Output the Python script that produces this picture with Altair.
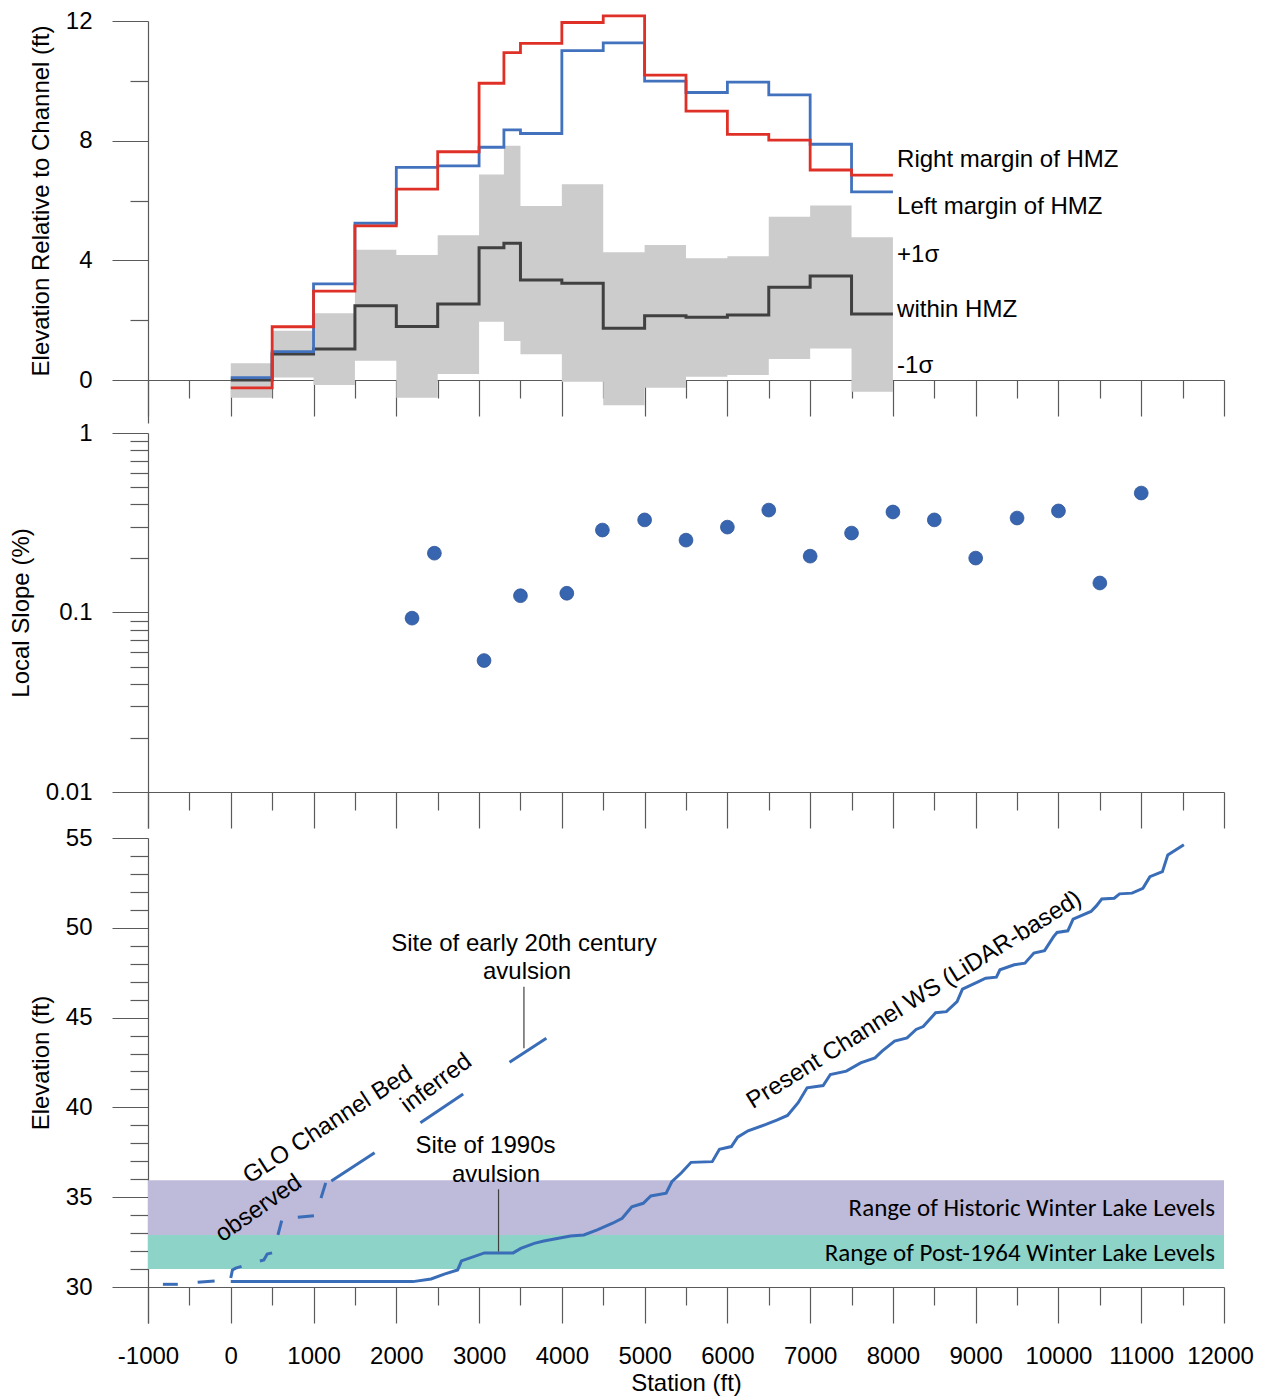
import altair as alt
import pandas as pd

# ---------------- Panel 1: elevation relative to channel (step series) ----------------
step_station = [0, 500, 1000, 1500, 2000, 2500, 3000, 3300, 3500, 4000, 4500,
                5000, 5500, 6000, 6500, 7000, 7500, 8000]
right_margin = [-0.26, 1.78, 2.97, 5.15, 6.38, 7.63, 9.92, 10.94, 11.25, 11.95, 12.17,
                10.19, 8.99, 8.21, 8.02, 7.02, 6.85, 6.85]
left_margin = [0.08, 0.95, 3.21, 5.24, 7.11, 7.16, 7.78, 8.36, 8.24, 11.01, 11.27,
               9.99, 9.61, 9.96, 9.53, 7.88, 6.29, 6.29]
within_hmz = [0.0, 0.87, 1.04, 2.48, 1.79, 2.54, 4.42, 4.57, 3.34, 3.23, 1.73,
              2.15, 2.10, 2.17, 3.10, 3.48, 2.21, 2.21]
plus_sigma = [0.56, 1.65, 2.23, 4.35, 4.18, 4.84, 6.87, 7.83, 5.82, 6.54, 4.27,
              4.51, 4.07, 4.14, 5.46, 5.83, 4.77, 4.77]
minus_sigma = [-0.59, 0.08, -0.17, 0.64, -0.59, 0.20, 1.95, 1.30, 0.86, -0.06, -0.84,
               -0.26, 0.11, 0.17, 0.70, 1.05, -0.39, -0.39]

p1_labels = ["Right margin of HMZ", "Left margin of HMZ", "+1σ", "within HMZ", "-1σ"]
p1_label_x = [8050, 8050, 8050, 8050, 8050]
p1_label_y = [7.35, 5.78, 4.19, 2.34, 0.48]

# ---------------- Panel 2: local slope ----------------
slope_station = [2190, 2460, 3060, 3500, 4060, 4490, 5000, 5500, 6000, 6500,
                 7000, 7500, 8000, 8500, 9000, 9500, 10000, 10500, 11000]
slope_pct = [0.093, 0.214, 0.054, 0.124, 0.128, 0.288, 0.328, 0.253, 0.299, 0.372,
             0.206, 0.277, 0.363, 0.328, 0.201, 0.336, 0.368, 0.146, 0.463]

# ---------------- Panel 3: longitudinal profile ----------------
ws_station = [0, 2200, 2420, 2580, 2741, 2787, 3065, 3412, 3504, 3666, 3782, 4104, 4266,
              4428, 4613, 4729, 4845, 4983, 5075, 5260, 5329, 5445, 5561, 5817, 5904,
              6048, 6124, 6250, 6466, 6597, 6726, 6855, 6963, 7157, 7244, 7437, 7610,
              7783, 7869, 8020, 8171, 8280, 8366, 8516, 8646, 8775, 8840, 9034, 9120,
              9250, 9293, 9466, 9595, 9703, 9832, 9941, 9983, 10113, 10177, 10393,
              10458, 10523, 10674, 10738, 10889, 11020, 11105, 11256, 11321, 11515]
ws_elev = [30.3, 30.3, 30.45, 30.72, 30.95, 31.45, 31.9, 31.9, 32.15, 32.43, 32.56, 32.84,
           32.9, 33.18, 33.55, 33.83, 34.47, 34.66, 35.07, 35.22, 35.86, 36.36, 36.94,
           36.98, 37.67, 37.82, 38.34, 38.7, 39.05, 39.29, 39.55, 40.26, 41.09, 41.22,
           41.83, 42.02, 42.48, 42.76, 43.13, 43.69, 43.87, 44.34, 44.5, 45.27, 45.33,
           45.89, 46.58, 47.0, 47.19, 47.25, 47.66, 47.94, 48.03, 48.59, 48.73, 49.51,
           49.74, 49.83, 50.48, 50.91, 51.22, 51.6, 51.65, 51.89, 51.93, 52.2, 52.85,
           53.13, 54.06, 54.62]

# GLO channel bed, drawn as the visible dash pieces (observed then inferred)
glo_seg = [1, 1, 2, 2, 3, 3, 3, 3, 4, 4, 4, 4, 5, 5, 6, 6, 7, 7, 8, 8, 9, 9, 10, 10]
glo_station = [-820, -640, -400, -195, 0, 20, 60, 130, 352, 400, 440, 499, 570, 615,
               810, 1005, 1090, 1147, 1215, 1738, 2291, 2808, 3368, 3813]
glo_elev = [30.15, 30.15, 30.26, 30.33, 30.5, 30.95, 31.05, 31.15, 31.45, 31.5, 31.84,
            31.9, 32.9, 33.7, 33.88, 33.97, 34.95, 35.8, 35.9, 37.48, 39.15, 40.75,
            42.51, 43.85]

lake_band_names = ["Range of Historic Winter Lake Levels", "Range of Post-1964 Winter Lake Levels"]
lake_band_lo = [32.9, 31.0]
lake_band_hi = [35.95, 32.9]
lake_band_color = ["#bebada", "#8dd3c7"]
lake_label_y = [34.4, 31.9]

ann_text = ["Site of early 20th century", "avulsion", "Site of 1990s", "avulsion"]
ann_x = [3542, 3579, 3077, 3204]
ann_y = [49.1, 47.54, 37.85, 36.24]

leader_x = [3542, 3235]
leader_lo = [43.29, 31.97]
leader_hi = [46.72, 35.44]

rot_text = ["GLO Channel Bed", "observed", "inferred", "Present Channel WS (LiDAR-based)"]
rot_x = [1174, 338, 2484, 8258]
rot_y = [39.02, 34.38, 41.34, 45.98]
rot_angle = [327, 325, 323, 328]

# ---------------- layout constants ----------------
W = 1076
H1, H2, H3 = 402, 395, 485
FONT = "Liberation Sans"
AXIS_GREY = "#5a5a5a"

x_scale = alt.Scale(domain=[-1000, 12000], nice=False, zero=False)
x_vals = list(range(-1000, 12001, 500))
major_x = "datum.value % 1000 === 0"


def x_axis(offset, show_labels, title=None):
    kw = dict(
        values=x_vals,
        tickSize={"condition": {"test": major_x, "value": 36}, "value": 18},
        offset=offset,
        grid=False,
        domainColor=AXIS_GREY,
        tickColor=AXIS_GREY,
        labels=show_labels,
        title=title,
    )
    if show_labels:
        kw.update(labelExpr=major_x + " ? ('' + datum.value) : ''",
                  labelOffset={"condition": {"test": "datum.value === 12000", "value": -4}, "value": 0},
                  labelOverlap=False, labelFlush=False, labelBound=False,
                  labelPadding=21, titlePadding=3)
    return alt.Axis(**kw)


def X(field, offset, show_labels=False, title=None):
    return alt.X(field, type="quantitative", scale=x_scale,
                 axis=x_axis(offset, show_labels, title))


def y_axis(values, major_test, title, title_y, label_expr):
    return alt.Axis(
        values=values,
        tickSize={"condition": {"test": major_test, "value": 36}, "value": 18},
        labelExpr=major_test + " ? " + label_expr + " : ''",
        labelOverlap=False,
        labelPadding=20,
        title=title,
        titleY=title_y,
        titlePadding=12,
        grid=False,
        domainColor=AXIS_GREY,
        tickColor=AXIS_GREY,
    )


# ---------------- Panel 1 ----------------
steps = pd.DataFrame({
    "station": step_station, "right": right_margin, "left": left_margin,
    "within": within_hmz, "hi": plus_sigma, "lo": minus_sigma,
})
y1_scale = alt.Scale(domain=[12 - H1 / 29.917, 12], nice=False, zero=False)
y1_axis = y_axis([0, 2, 4, 6, 8, 10, 12], "datum.value % 4 === 0",
                 "Elevation Relative to Channel (ft)", 179.5, "datum.label")
off1 = -(H1 - 359)

base1 = alt.Chart(steps)
band1 = base1.mark_area(interpolate="step-after", color="#cccccc").encode(
    x=X("station", off1),
    y=alt.Y("hi:Q", scale=y1_scale, axis=y1_axis),
    y2="lo:Q",
)
within_line = base1.mark_line(interpolate="step-after", color="#404040", strokeWidth=3).encode(
    x=X("station", off1), y=alt.Y("within:Q", scale=y1_scale, axis=y1_axis))
left_line = base1.mark_line(interpolate="step-after", color="#4272bd", strokeWidth=2.8).encode(
    x=X("station", off1), y=alt.Y("left:Q", scale=y1_scale, axis=y1_axis))
right_line = base1.mark_line(interpolate="step-after", color="#df3027", strokeWidth=2.8).encode(
    x=X("station", off1), y=alt.Y("right:Q", scale=y1_scale, axis=y1_axis))
lab1 = alt.Chart(pd.DataFrame({"t": p1_labels, "x": p1_label_x, "y": p1_label_y})).mark_text(
    align="left", baseline="middle", font=FONT, fontSize=24, color="black"
).encode(
    x=X("x", off1), y=alt.Y("y:Q", scale=y1_scale, axis=y1_axis), text="t:N")

panel1 = alt.layer(band1, within_line, left_line, right_line, lab1).properties(width=W, height=H1)

# ---------------- Panel 2 ----------------
slopes = pd.DataFrame({"station": slope_station, "slope": slope_pct})
log_low = 10 ** (-2 - (H2 - 359) / 179.5)
y2_scale = alt.Scale(type="log", domain=[log_low, 1], nice=False)
log_vals = []
for dec in [0.01, 0.1]:
    log_vals += [round(dec * k, 4) for k in range(1, 10)]
log_vals.append(1)
major_log = "abs(log(datum.value) / LN10 - round(log(datum.value) / LN10)) < 0.001"
y2_axis = y_axis(log_vals, major_log, "Local Slope (%)", 179.5, "format(datum.value, '~g')")
off2 = -(H2 - 359)

panel2 = alt.Chart(slopes).mark_circle(
    size=190, color="#3865b0", opacity=1, stroke="#2f5597", strokeWidth=0.8
).encode(
    x=X("station", off2),
    y=alt.Y("slope:Q", scale=y2_scale, axis=y2_axis),
).properties(width=W, height=H2)

# ---------------- Panel 3 ----------------
y3_scale = alt.Scale(domain=[55 - H3 / 17.96, 55], nice=False, zero=False)
y3_axis = y_axis(list(range(30, 56)), "datum.value % 5 === 0", "Elevation (ft)", 224.5, "datum.label")
off3 = -(H3 - 449)

bands = pd.DataFrame({"name": lake_band_names, "lo": lake_band_lo, "hi": lake_band_hi,
                      "c": lake_band_color, "ly": lake_label_y,
                      "x0": [-1000, -1000], "x1": [12000, 12000], "lx": [11891, 11891]})
band_rects = alt.Chart(bands).mark_rect().encode(
    x=X("x0", off3, True, "Station (ft)"), x2="x1:Q",
    y=alt.Y("lo:Q", scale=y3_scale, axis=y3_axis), y2="hi:Q",
    color=alt.Color("c:N", scale=None),
)
band_text = alt.Chart(bands).mark_text(
    align="right", baseline="middle", font="Carlito, 'Liberation Sans Narrow', 'DejaVu Sans Condensed', sans-serif",
    fontSize=25, color="black"
).encode(
    x=X("lx", off3, True, "Station (ft)"),
    y=alt.Y("ly:Q", scale=y3_scale, axis=y3_axis), text="name:N")

ws = pd.DataFrame({"station": ws_station, "elev": ws_elev})
ws_line = alt.Chart(ws).mark_line(color="#3a6db7", strokeWidth=3).encode(
    x=X("station", off3, True, "Station (ft)"),
    y=alt.Y("elev:Q", scale=y3_scale, axis=y3_axis))

glo = pd.DataFrame({"seg": glo_seg, "station": glo_station, "elev": glo_elev})
glo_line = alt.Chart(glo).mark_line(color="#3a6db7", strokeWidth=3).encode(
    x=X("station", off3, True, "Station (ft)"),
    y=alt.Y("elev:Q", scale=y3_scale, axis=y3_axis),
    detail="seg:N", order="station:Q")

leaders = pd.DataFrame({"x": leader_x, "lo": leader_lo, "hi": leader_hi})
leader_rules = alt.Chart(leaders).mark_rule(color="#404040", strokeWidth=1.2).encode(
    x=X("x", off3, True, "Station (ft)"),
    y=alt.Y("lo:Q", scale=y3_scale, axis=y3_axis), y2="hi:Q")

ann = pd.DataFrame({"t": ann_text, "x": ann_x, "y": ann_y})
ann_marks = alt.Chart(ann).mark_text(
    align="center", baseline="middle", font=FONT, fontSize=24, color="black"
).encode(
    x=X("x", off3, True, "Station (ft)"),
    y=alt.Y("y:Q", scale=y3_scale, axis=y3_axis), text="t:N")

rot_layers = []
for t, xv, yv, a in zip(rot_text, rot_x, rot_y, rot_angle):
    rot_layers.append(
        alt.Chart(pd.DataFrame({"t": [t], "x": [xv], "y": [yv]})).mark_text(
            align="center", baseline="middle", font=FONT, fontSize=24, color="black", angle=a
        ).encode(
            x=X("x", off3, True, "Station (ft)"),
            y=alt.Y("y:Q", scale=y3_scale, axis=y3_axis), text="t:N")
    )

panel3 = alt.layer(band_rects, band_text, ws_line, glo_line, leader_rules, ann_marks,
                   *rot_layers).properties(width=W, height=H3)

chart = alt.vconcat(panel1, panel2, panel3, spacing=10, bounds="flush").properties(
    padding={"left": 0, "top": 0, "right": 0, "bottom": 0}
).configure_view(stroke="transparent").configure_axis(
    labelFont=FONT, labelFontSize=24, labelColor="black",
    titleFont=FONT, titleFontSize=24, titleFontWeight="normal", titleColor="black",
    domainWidth=1.2, tickWidth=1.2,
)

chart.save("out.html", embed_options={"renderer": "svg", "actions": False})
